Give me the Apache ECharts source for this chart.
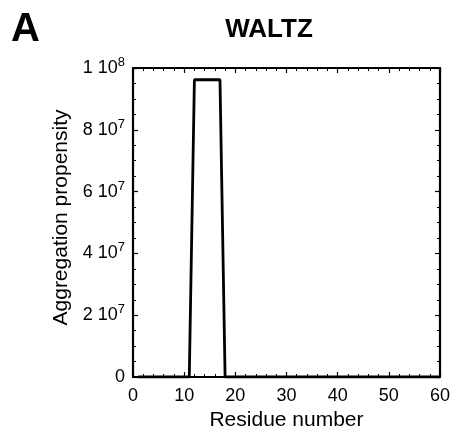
<!DOCTYPE html>
<html><head><meta charset="utf-8">
<script src="https://cdn.jsdelivr.net/npm/echarts@6/dist/echarts.min.js"></script>
<style>html,body{margin:0;padding:0;background:#fff}#c{width:453px;height:436px}</style>
</head><body><div id="c"></div>
<script>
var residues = [1,2,3,4,5,6,7,8,9,10,11,12,13,14,15,16,17,18,19,20,21,22,23,24,25,26,27,28,29,30,31,32,33,34,35,36,37,38,39,40,41,42,43,44,45,46,47,48,49,50,51,52,53,54,55,56,57,58,59,60];
var propensity = [0,0,0,0,0,0,0,0,0,0,0,9.62e7,9.62e7,9.62e7,9.62e7,9.62e7,9.62e7,0,0,0,0,0,0,0,0,0,0,0,0,0,0,0,0,0,0,0,0,0,0,0,0,0,0,0,0,0,0,0,0,0,0,0,0,0,0,0,0,0,0,0];
var xTickLabels = ['0','10','20','30','40','50','60'];
var yTickMantissa = ['0','2','4','6','8','1'];
var yTickExponent = ['','7','7','7','7','8'];

var chart = echarts.init(document.getElementById('c'));
var F = 'Liberation Sans, Arial, Helvetica, sans-serif';
var axisCommon = {
  type: 'value',
  axisLine: {show: true, onZero: false, lineStyle: {color: '#000', width: 2.2}},
  axisTick: {show: true, inside: true, length: 5, lineStyle: {color: '#000', width: 1.2}},
  minorTick: {show: true, length: 3, lineStyle: {color: '#000', width: 1}},
  splitLine: {show: false}
};
chart.setOption({
  animation: false,
  title: [
    {text: 'A', left: 6, top: 5, textStyle: {fontFamily: F, fontSize: 40, fontWeight: 'bold', color: '#000'}},
    {text: 'WALTZ', left: 264, top: 12, textAlign: 'center', textStyle: {fontFamily: F, fontSize: 26, fontWeight: 'bold', color: '#000'}}
  ],
  grid: {left: 133, right: 11, top: 68, bottom: 59},
  xAxis: [
    Object.assign({}, axisCommon, {
      position: 'bottom', min: 0, max: 60, interval: 10,
      minorTick: Object.assign({}, axisCommon.minorTick, {splitNumber: 5}),
      axisLabel: {fontFamily: F, fontSize: 18, color: '#000', margin: 10,
        formatter: function (v) { return xTickLabels[Math.round(v / 10)]; }},
      name: 'Residue number', nameLocation: 'middle', nameGap: 27,
      nameTextStyle: {fontFamily: F, fontSize: 21, color: '#000', verticalAlign: 'top'}
    }),
    Object.assign({}, axisCommon, {
      position: 'top', min: 0, max: 60, interval: 10,
      minorTick: Object.assign({}, axisCommon.minorTick, {splitNumber: 5}),
      axisLabel: {show: false}
    })
  ],
  yAxis: [
    Object.assign({}, axisCommon, {
      position: 'left', min: 0, max: 1e8, interval: 2e7,
      minorTick: Object.assign({}, axisCommon.minorTick, {splitNumber: 4}),
      axisLabel: {fontFamily: F, fontSize: 18, color: '#000', margin: 8,
        formatter: function (v) {
          var i = Math.round(v / 2e7);
          if (!yTickExponent[i]) return '{a|' + yTickMantissa[i] + '}';
          return '{a|' + yTickMantissa[i] + ' 10}{s|' + yTickExponent[i] + '}';
        },
        rich: {
          a: {fontFamily: F, fontSize: 18, color: '#000'},
          s: {fontFamily: F, fontSize: 13, color: '#000', padding: [0, 0, 11, 0]}
        }
      },
      name: 'Aggregation propensity', nameLocation: 'middle', nameGap: 53,
      nameTextStyle: {fontFamily: F, fontSize: 21, color: '#000', padding: [0, 0, 0, 10]}
    }),
    Object.assign({}, axisCommon, {
      position: 'right', min: 0, max: 1e8, interval: 2e7,
      minorTick: Object.assign({}, axisCommon.minorTick, {splitNumber: 4}),
      axisLabel: {show: false}
    })
  ],
  series: [{
    type: 'line',
    data: residues.map(function (r, i) { return [r, propensity[i]]; }),
    showSymbol: false,
    lineStyle: {color: '#000', width: 2.8},
    itemStyle: {color: '#000'}
  }]
});
</script></body></html>
